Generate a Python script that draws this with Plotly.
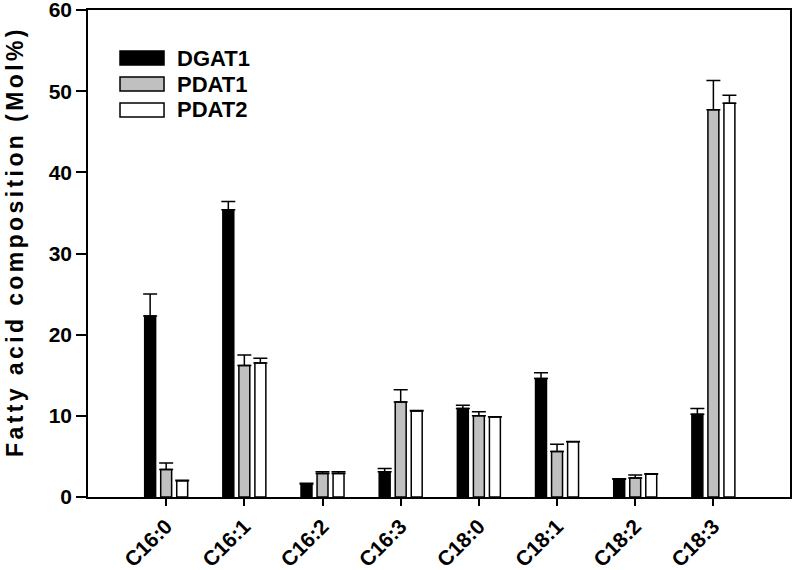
import plotly.graph_objects as go

categories = ["C16:0", "C16:1", "C16:2", "C16:3", "C18:0", "C18:1", "C18:2", "C18:3"]
series_names = ["DGAT1", "PDAT1", "PDAT2"]
dgat1 = [22.3, 35.4, 1.6, 3.1, 10.9, 14.6, 2.2, 10.2]
dgat1_err = [2.7, 1.0, 0.1, 0.4, 0.4, 0.7, 0.05, 0.7]
pdat1 = [3.4, 16.2, 2.9, 11.7, 10.0, 5.6, 2.35, 47.7]
pdat1_err = [0.8, 1.3, 0.2, 1.5, 0.5, 0.9, 0.35, 3.6]
pdat2 = [2.0, 16.5, 2.9, 10.6, 9.85, 6.8, 2.8, 48.5]
pdat2_err = [0.05, 0.6, 0.2, 0.05, 0.05, 0.05, 0.05, 1.0]
y_ticks = [0, 10, 20, 30, 40, 50, 60]

values = [dgat1, pdat1, pdat2]
errors = [dgat1_err, pdat1_err, pdat2_err]
fills = ["#000000", "#c0c0c0", "#ffffff"]

FONT = "Arial, Liberation Sans, sans-serif"

fig = go.Figure()
for name, v, e, c in zip(series_names, values, errors, fills):
    fig.add_trace(go.Bar(
        x=categories, y=v, name=name,
        marker=dict(color=c, line=dict(color="#000000", width=1.5)),
        error_y=dict(type="data", array=e, arrayminus=[0] * len(e), symmetric=False,
                     color="#000000", thickness=1.5, width=7),
        showlegend=False,
    ))

# custom legend (wide rectangular swatches)
leg_x0, leg_x1 = 0.0456, 0.1083
leg_y = [0.9014, 0.848, 0.7947]
half_h = 0.0145
for name, c, yy in zip(series_names, fills, leg_y):
    fig.add_shape(type="rect", xref="paper", yref="paper",
                  x0=leg_x0, x1=leg_x1, y0=yy - half_h, y1=yy + half_h,
                  fillcolor=c, line=dict(color="#000000", width=1.5))
    fig.add_annotation(xref="paper", yref="paper", x=0.1245, y=yy,
                       xanchor="left", yanchor="middle", showarrow=False,
                       text="<b>" + name + "</b>",
                       font=dict(family=FONT, size=22, color="#000000"))

fig.add_annotation(xref="paper", yref="paper", x=-0.104, y=0.5257,
                   xanchor="center", yanchor="middle", showarrow=False, textangle=-90,
                   text='<b><span style="letter-spacing:3.4px">Fatty acid composition (Mol%)</span></b>',
                   font=dict(family=FONT, size=23, color="#000000"))

fig.update_layout(
    width=792, height=570,
    margin=dict(l=88, r=2, t=10, b=73),
    paper_bgcolor="#ffffff", plot_bgcolor="#ffffff",
    barmode="group", bargap=0.385, bargroupgap=0.317,
    font=dict(family=FONT, color="#000000"),
)
fig.update_xaxes(
    type="category", range=[-1, 7.98], automargin=False,
    showline=True, linecolor="#000000", linewidth=1.5, mirror=True,
    ticks="outside", ticklen=7, tickwidth=1.5, tickcolor="#000000",
    tickangle=-45, ticklabeloverflow="allow",
    tickfont=dict(family=FONT, size=21, color="#000000", weight="bold"),
    showgrid=False, zeroline=False,
)
fig.update_yaxes(
    range=[0, 60], tickvals=y_ticks, automargin=False,
    showline=True, linecolor="#000000", linewidth=1.5, mirror=True,
    ticks="outside", ticklen=10, tickwidth=1.5, tickcolor="#000000",
    ticklabeloverflow="allow",
    tickfont=dict(family=FONT, size=21, color="#000000", weight="bold"),
    showgrid=False, zeroline=False,
)

fig.write_html("out.html", config={"displayModeBar": False},
               post_script="document.body.style.margin='0';document.body.style.padding='0';")
